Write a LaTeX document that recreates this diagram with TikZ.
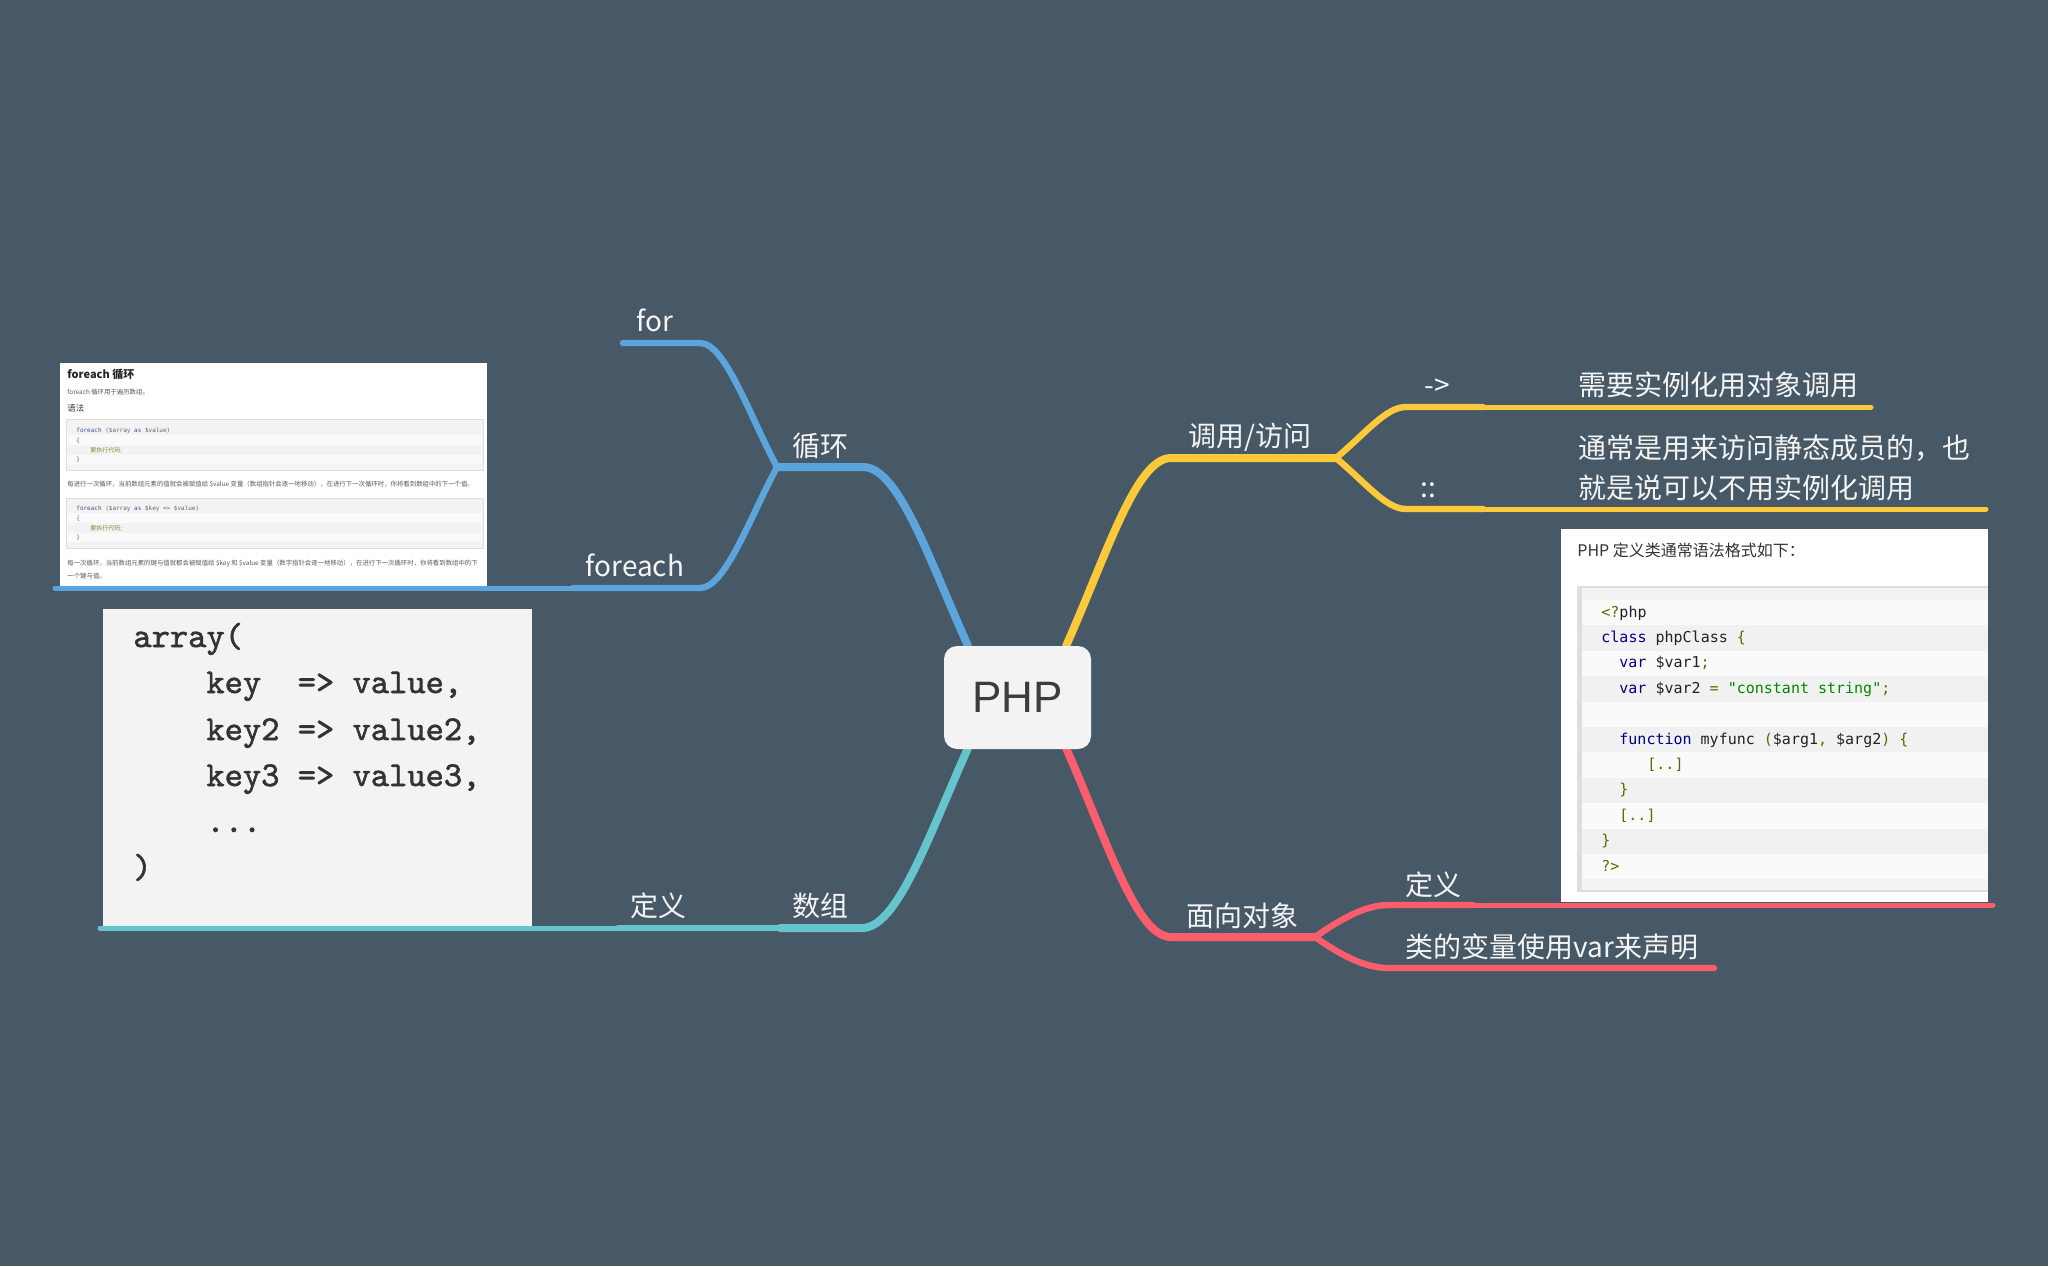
\documentclass[tikz,border=0pt]{standalone}
\usepackage{fontspec}
\newfontfamily\cjk{Noto Sans CJK SC}
\newfontfamily\phpfont{Liberation Sans}
\newfontfamily\codefont{DejaVu Sans Mono}
\newfontfamily\arrfont{lmmono10-regular.otf}[FakeBold=1.6]
\definecolor{bgc}{RGB}{71,89,102}
\definecolor{cblue}{RGB}{91,164,220}
\definecolor{cyellow}{RGB}{252,201,58}
\definecolor{cred}{RGB}{250,93,108}
\definecolor{cteal}{RGB}{100,198,204}
\definecolor{boxgray}{HTML}{F3F3F3}
\definecolor{phptext}{HTML}{3C3C3C}
\definecolor{lbltext}{HTML}{F4F4F4}
\definecolor{kwd}{HTML}{000088}
\definecolor{pun}{HTML}{666600}
\definecolor{str}{HTML}{008800}
\definecolor{pln}{HTML}{222222}
\definecolor{rowA}{HTML}{FAFAFA}
\definecolor{rowB}{HTML}{F1F1F1}
\definecolor{codebg}{HTML}{F3F3F3}
\definecolor{codeborder}{HTML}{DEDEDE}
\definecolor{fkw}{HTML}{3F51A8}
\definecolor{fstr}{HTML}{8A8A3A}
\begin{document}
\begin{tikzpicture}[x=0.5pt,y=0.5pt,
  lvlone/.style={line width=4pt,line cap=round},
  lvltwo/.style={line width=3.2pt,line cap=round},
  lvlthree/.style={line width=2.5pt,line cap=round},
  lbl/.style={font=\cjk\fontsize{14pt}{16pt}\selectfont,text=lbltext,inner sep=0pt},
  phpbox/.style={fill=boxgray,rounded corners=6.5pt,minimum width=73.5pt,minimum height=51.5pt,
     font=\phpfont\fontsize{22pt}{24pt}\selectfont,text=phptext,inner sep=0pt},
  pcode/.style={font=\codefont\fontsize{7.5pt}{9pt}\selectfont,text=pln,inner sep=0pt,anchor=base west},
  acode/.style={font=\arrfont\fontsize{17.4pt}{20pt}\selectfont,text=black!80,inner sep=0pt,anchor=base west},
  ftxt/.style={font=\cjk\fontsize{3.2pt}{4pt}\selectfont,text=black!65,inner sep=0pt,anchor=base west},
  fcode/.style={font=\codefont\fontsize{3pt}{4pt}\selectfont,text=black!60,inner sep=0pt,anchor=base west}
]
\useasboundingbox (0,0) rectangle (2048,-1266);
\fill[bgc] (0,0) rectangle (2048,-1266);

% ---------- foreach image ----------
\fill[white] (60,-363) rectangle (487,-586);
\node[font=\cjk\bfseries\fontsize{5.5pt}{6pt}\selectfont,text=black!85,inner sep=0pt,anchor=base west] (fTitle) at (67,-378) {foreach 循环};
\node[ftxt] (fSub) at (67,-394) {foreach 循环用于遍历数组。};
\node[font=\cjk\fontsize{4.2pt}{5pt}\selectfont,text=black!80,inner sep=0pt,anchor=base west] (fSyn) at (67,-411) {语法};
\filldraw[fill=codebg,draw=codeborder,line width=0.4pt] (66,-419) rectangle (483,-470);
\fill[white!60!codebg] (67,-435) rectangle (482,-445);
\fill[white!60!codebg] (67,-455) rectangle (482,-464);
\node[fcode] (fc1) at (76,-432) {\textcolor{fkw}{foreach} (\$array \textcolor{fkw}{as} \$value)};
\node[fcode] (fc2) at (76,-442) {\{};
\node[fcode] (fc3) at (90,-452) {\textcolor{fstr}{\cjk 要执行代码;}};
\node[fcode] (fc4) at (76,-461) {\}};
\node[ftxt] (fb1) at (67,-486) {每进行一次循环，当前数组元素的值就会被赋值给 \$value 变量（数组指针会逐一地移动），在进行下一次循环时，你将看到数组中的下一个值。};
\filldraw[fill=codebg,draw=codeborder,line width=0.4pt] (66,-498) rectangle (483,-548);
\fill[white!60!codebg] (67,-513) rectangle (482,-523);
\fill[white!60!codebg] (67,-533) rectangle (482,-542);
\node[fcode] (fc5) at (76,-510) {\textcolor{fkw}{foreach} (\$array \textcolor{fkw}{as} \$key => \$value)};
\node[fcode] (fc6) at (76,-520) {\{};
\node[fcode] (fc7) at (90,-530) {\textcolor{fstr}{\cjk 要执行代码;}};
\node[fcode] (fc8) at (76,-539) {\}};
\node[ftxt] (fb2) at (67,-565) {每一次循环，当前数组元素的键与值就都会被赋值给 \$key 和 \$value 变量（数字指针会逐一地移动），在进行下一次循环时，你将看到数组中的下};
\node[ftxt] (fb3) at (67,-578) {一个键与值。};

% ---------- array image ----------
\fill[boxgray] (103,-609) rectangle (532,-927);
\node[acode] (a1) at (133,-647) {array(};
\node[acode] (a2) at (206,-693) {key\ \ => value,};
\node[acode] (a3) at (206,-740) {key2 => value2,};
\node[acode] (a4) at (206,-786) {key3 => value3,};
\node[acode] (a5) at (206,-832) {...};
\node[acode] (a6) at (133,-878) {)};

% ---------- PHP class image ----------
\fill[white] (1561,-529) rectangle (1988,-902);
\node[font=\cjk\fontsize{8pt}{10pt}\selectfont,text=black!80,inner sep=0pt,anchor=base west] (cTitle) at (1577,-556) {PHP 定义类通常语法格式如下：};
\fill[codebg] (1577,-586) rectangle (1988,-892);
\foreach \i in {0,2,4,6,8,10} \fill[rowA] (1582,{-600-25.4*\i}) rectangle (1988,{-625.4-25.4*\i});
\foreach \i in {1,3,5,7,9} \fill[rowB] (1582,{-600-25.4*\i}) rectangle (1988,{-625.4-25.4*\i});
\fill[codeborder] (1577,-586) rectangle (1582,-892);
\fill[codeborder] (1577,-586) rectangle (1988,-588);
\fill[codeborder] (1577,-890) rectangle (1988,-892);
\node[pcode] (p0) at (1601,-617) {\textcolor{pun}{<?}php};
\node[pcode] (p1) at (1601,-642.4) {\textcolor{kwd}{class} phpClass \textcolor{pun}{\{}};
\node[pcode] (p2) at (1619,-667.8) {\textcolor{kwd}{var} \$var1\textcolor{pun}{;}};
\node[pcode] (p3) at (1619,-693.2) {\textcolor{kwd}{var} \$var2 \textcolor{pun}{=} \textcolor{str}{"constant string"}\textcolor{pun}{;}};
\node[pcode] (p5) at (1619,-744) {\textcolor{kwd}{function} myfunc \textcolor{pun}{(}\$arg1\textcolor{pun}{,} \$arg2\textcolor{pun}{) \{}};
\node[pcode] (p6) at (1647,-769.4) {\textcolor{pun}{[..]}};
\node[pcode] (p7) at (1619,-794.8) {\textcolor{pun}{\}}};
\node[pcode] (p8) at (1619,-820.2) {\textcolor{pun}{[..]}};
\node[pcode] (p9) at (1601,-845.6) {\textcolor{pun}{\}}};
\node[pcode] (p10) at (1601,-871) {\textcolor{pun}{?>}};

% ---------- coordinates ----------
\coordinate (bS) at (968,-646);
\coordinate (bR) at (863,-467);
\coordinate (bJ) at (777,-467);
\coordinate (forR) at (700,-343);
\coordinate (forL) at (623,-343);
\coordinate (feR) at (700,-588);
\coordinate (feL) at (573,-588);
\coordinate (feImg) at (55,-588);

\coordinate (tS) at (968,-748);
\coordinate (tR) at (862,-928);
\coordinate (tJ) at (780,-928);
\coordinate (tdL) at (618,-928);
\coordinate (tImg) at (100,-928);

\coordinate (yS) at (1066,-646);
\coordinate (yL) at (1171,-458);
\coordinate (yJ) at (1336,-458);
\coordinate (arL) at (1406,-407);
\coordinate (arR) at (1483,-407);
\coordinate (arT) at (1871,-407);
\coordinate (ccL) at (1406,-509);
\coordinate (ccR) at (1483,-509);
\coordinate (ccT) at (1986,-509);

\coordinate (rS) at (1066,-748);
\coordinate (rL) at (1171,-937);
\coordinate (rJ) at (1315,-937);
\coordinate (rdL) at (1389,-905);
\coordinate (rdR) at (1473,-905);
\coordinate (rImg) at (1993,-905);
\coordinate (rvL) at (1389,-968);
\coordinate (rvR) at (1714,-968);

% ---------- blue ----------
\draw[lvlone,cblue] (bS) .. controls +(114:100) and +(35,0) .. (bR) -- (bJ);
\draw[lvltwo,cblue] (bJ) .. controls +(118:60) and +(25,0) .. (forR) -- (forL);
\draw[lvltwo,cblue] (bJ) .. controls +(242:60) and +(25,0) .. (feR) -- (feL);
\draw[lvlthree,cblue] (feL) -- (feImg);
% ---------- teal ----------
\draw[lvlone,cteal] (tS) .. controls +(246:100) and +(35,0) .. (tR) -- (tJ);
\draw[lvltwo,cteal] (tJ) -- (tdL);
\draw[lvlthree,cteal] (tdL) -- (tImg);
% ---------- yellow ----------
\draw[lvlone,cyellow] (yS) .. controls +(66:100) and +(-35,0) .. (yL) -- (yJ);
\draw[lvltwo,cyellow] (yJ) .. controls +(40:40) and +(-20,0) .. (arL) -- (arR);
\draw[lvlthree,cyellow] (arR) -- (arT);
\draw[lvltwo,cyellow] (yJ) .. controls +(-40:40) and +(-20,0) .. (ccL) -- (ccR);
\draw[lvlthree,cyellow] (ccR) -- (ccT);
% ---------- red ----------
\draw[lvlone,cred] (rS) .. controls +(294:100) and +(-35,0) .. (rL) -- (rJ);
\draw[lvltwo,cred] (rJ) .. controls +(35:40) and +(-20,0) .. (rdL) -- (rdR);
\draw[lvlthree,cred] (rdR) -- (rImg);
\draw[lvltwo,cred] (rJ) .. controls +(-35:40) and +(-20,0) .. (rvL) -- (rvR);

% ---------- center ----------
\node[phpbox] (php) at (1017.5,-697.5) {PHP};

% ---------- labels ----------
\node[lbl,anchor=base] (lLoop) at (820,-456) {循环};
\node[lbl,anchor=base] (lFor) at (655,-331) {for};
\node[lbl,anchor=base] (lForeach) at (635,-576) {foreach};
\node[lbl,anchor=base] (lArr) at (820,-916) {数组};
\node[lbl,anchor=base] (lDefA) at (658,-916) {定义};
\node[lbl,anchor=base] (lCall) at (1249.5,-446) {调用/访问};
\node[lbl,anchor=base] (lArrow) at (1437,-395) {->};
\node[lbl,anchor=base west] (lNeed) at (1578,-395) {需要实例化用对象调用};
\node[lbl,anchor=base] (lColon) at (1428,-497) {::};
\node[lbl,anchor=base west] (lStat1) at (1578,-458) {通常是用来访问静态成员的，也};
\node[lbl,anchor=base west] (lStat2) at (1578,-498) {就是说可以不用实例化调用};
\node[lbl,anchor=base] (lOO) at (1242.5,-926) {面向对象};
\node[lbl,anchor=base] (lDefR) at (1433.5,-895) {定义};
\node[lbl,anchor=base west] (lVar) at (1405,-957) {类的变量使用var来声明};
\end{tikzpicture}
\end{document}
